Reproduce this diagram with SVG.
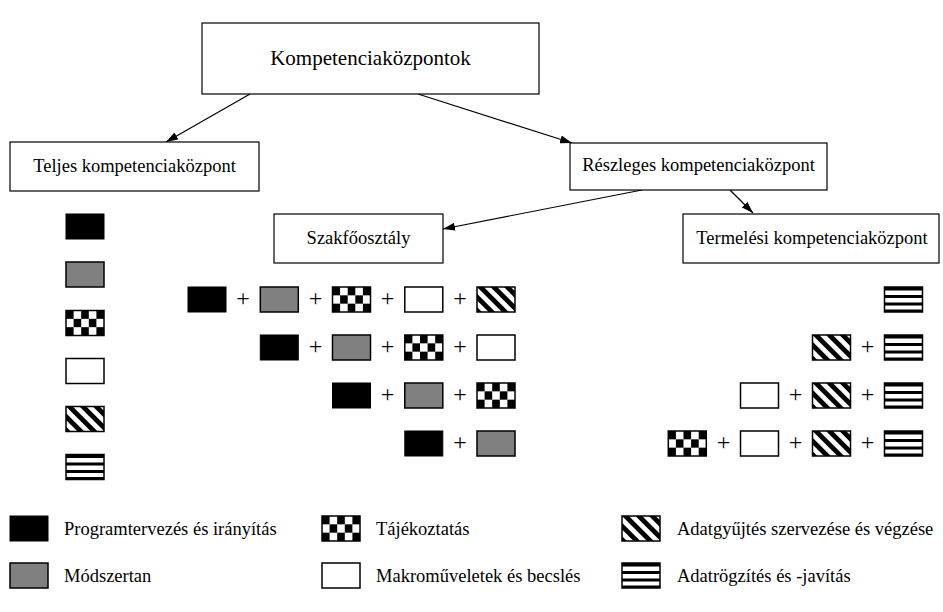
<svg xmlns="http://www.w3.org/2000/svg" xmlns:xlink="http://www.w3.org/1999/xlink" width="943" height="612" viewBox="0 0 943 612">
<style>
text{font-family:"Liberation Serif","Times New Roman",serif;fill:#000}
.node rect{fill:#fff;stroke:#000;stroke-width:1.2}
.lbl{font-size:18.5px;text-anchor:middle}
.title{font-size:21px;text-anchor:middle}
.leg{font-size:18.5px}
.plus{font-size:24px;text-anchor:middle}
.bd{fill:none;stroke:#000;stroke-width:1.5}
#connectors line{stroke:#000;stroke-width:1.2;marker-end:url(#ah)}
</style>
<defs>
<marker id="ah" markerUnits="userSpaceOnUse" markerWidth="12" markerHeight="8" viewBox="0 0 12 8" refX="12" refY="4" orient="auto"><path d="M0,0 L12,4 L0,8 z" fill="#000"/></marker>
<pattern id="diag" patternUnits="userSpaceOnUse" width="9.5" height="9.5" patternTransform="rotate(-45)"><rect width="9.5" height="9.5" fill="#fff"/><rect width="4.8" height="9.5" fill="#000"/></pattern>
<g id="s-blk"><rect width="38" height="25" fill="#000" stroke="#000" stroke-width="1"/></g>
<g id="s-gry"><rect width="38" height="25" fill="#808080" stroke="#000" stroke-width="1.5"/></g>
<g id="s-wht"><rect width="38" height="25" fill="#fff" stroke="#000" stroke-width="1.5"/></g>
<g id="s-chk"><rect width="38" height="25" fill="#fff"/>
<rect x="0" y="0" width="7.6" height="8.34" fill="#000"/><rect x="15.2" y="0" width="7.6" height="8.34" fill="#000"/><rect x="30.4" y="0" width="7.6" height="8.34" fill="#000"/>
<rect x="7.6" y="8.33" width="7.6" height="8.34" fill="#000"/><rect x="22.8" y="8.33" width="7.6" height="8.34" fill="#000"/>
<rect x="0" y="16.66" width="7.6" height="8.34" fill="#000"/><rect x="15.2" y="16.66" width="7.6" height="8.34" fill="#000"/><rect x="30.4" y="16.66" width="7.6" height="8.34" fill="#000"/>
<rect class="bd" width="38" height="25"/></g>
<g id="s-dia"><rect width="38" height="25" fill="url(#diag)"/><rect class="bd" width="38" height="25"/></g>
<g id="s-hor"><rect width="38" height="25" fill="#fff"/><rect y="0" width="38" height="3.5" fill="#000"/><rect y="8" width="38" height="3" fill="#000"/><rect y="15.5" width="38" height="3" fill="#000"/><rect y="22.5" width="38" height="2.5" fill="#000"/><rect class="bd" width="38" height="25"/></g>
</defs>
<rect width="943" height="612" fill="#fff"/>

<g id="connectors">
<line x1="250" y1="94" x2="166" y2="142"/>
<line x1="418" y1="94" x2="572" y2="143"/>
<line x1="642" y1="190" x2="443" y2="229"/>
<line x1="730" y1="190" x2="753" y2="213"/>
</g>

<g id="n-top" class="node"><rect x="202" y="23" width="337" height="71"/><text class="title" x="370.5" y="65">Kompetenciaközpontok</text></g>
<g id="n-teljes" class="node"><rect x="10" y="142" width="249" height="49"/><text class="lbl" x="134.5" y="172">Teljes kompetenciaközpont</text></g>
<g id="n-reszleges" class="node"><rect x="570" y="143" width="257" height="47"/><text class="lbl" x="698.5" y="171">Részleges kompetenciaközpont</text></g>
<g id="n-szak" class="node"><rect x="274" y="214" width="169" height="49"/><text class="lbl" x="358.5" y="244">Szakfőosztály</text></g>
<g id="n-termelesi" class="node"><rect x="683" y="214" width="256" height="49"/><text class="lbl" x="812" y="244">Termelési kompetenciaközpont</text></g>

<g id="teljes-col">
<use xlink:href="#s-blk" x="66" y="214"/>
<use xlink:href="#s-gry" x="66" y="262"/>
<use xlink:href="#s-chk" x="66" y="310.5"/>
<use xlink:href="#s-wht" x="66" y="358.5"/>
<use xlink:href="#s-dia" x="66" y="406.5"/>
<use xlink:href="#s-hor" x="66" y="454.5"/>
</g>

<g id="szak-rows">
<use xlink:href="#s-blk" x="188" y="287"/><text class="plus" x="243.1" y="305.5">+</text>
<use xlink:href="#s-gry" x="260.3" y="287"/><text class="plus" x="315.4" y="305.5">+</text>
<use xlink:href="#s-chk" x="332.5" y="287"/><text class="plus" x="387.6" y="305.5">+</text>
<use xlink:href="#s-wht" x="404.8" y="287"/><text class="plus" x="459.9" y="305.5">+</text>
<use xlink:href="#s-dia" x="477" y="287"/>

<use xlink:href="#s-blk" x="260.3" y="335"/><text class="plus" x="315.4" y="353.5">+</text>
<use xlink:href="#s-gry" x="332.5" y="335"/><text class="plus" x="387.6" y="353.5">+</text>
<use xlink:href="#s-chk" x="404.8" y="335"/><text class="plus" x="459.9" y="353.5">+</text>
<use xlink:href="#s-wht" x="477" y="335"/>

<use xlink:href="#s-blk" x="332.5" y="383"/><text class="plus" x="387.6" y="401.5">+</text>
<use xlink:href="#s-gry" x="404.8" y="383"/><text class="plus" x="459.9" y="401.5">+</text>
<use xlink:href="#s-chk" x="477" y="383"/>

<use xlink:href="#s-blk" x="404.8" y="431"/><text class="plus" x="459.9" y="449.5">+</text>
<use xlink:href="#s-gry" x="477" y="431"/>
</g>

<g id="termelesi-rows">
<use xlink:href="#s-hor" x="884.5" y="287"/>

<use xlink:href="#s-dia" x="812.5" y="335"/><text class="plus" x="867.6" y="353.5">+</text>
<use xlink:href="#s-hor" x="884.5" y="335"/>

<use xlink:href="#s-wht" x="740.5" y="383"/><text class="plus" x="795.5" y="401.5">+</text>
<use xlink:href="#s-dia" x="812.5" y="383"/><text class="plus" x="867.6" y="401.5">+</text>
<use xlink:href="#s-hor" x="884.5" y="383"/>

<use xlink:href="#s-chk" x="668.3" y="431"/><text class="plus" x="723.4" y="449.5">+</text>
<use xlink:href="#s-wht" x="740.5" y="431"/><text class="plus" x="795.5" y="449.5">+</text>
<use xlink:href="#s-dia" x="812.5" y="431"/><text class="plus" x="867.6" y="449.5">+</text>
<use xlink:href="#s-hor" x="884.5" y="431"/>
</g>

<g id="legend">
<use xlink:href="#s-blk" x="10" y="516"/><text class="leg" x="64" y="535">Programtervezés és irányítás</text>
<use xlink:href="#s-chk" x="322" y="516"/><text class="leg" x="376" y="535">Tájékoztatás</text>
<use xlink:href="#s-dia" x="622" y="516"/><text class="leg" x="677" y="535">Adatgyűjtés szervezése és végzése</text>
<use xlink:href="#s-gry" x="10" y="563"/><text class="leg" x="64" y="582">Módszertan</text>
<use xlink:href="#s-wht" x="322" y="563"/><text class="leg" x="376" y="582">Makroműveletek és becslés</text>
<use xlink:href="#s-hor" x="622" y="563"/><text class="leg" x="677" y="582">Adatrögzítés és -javítás</text>
</g>
</svg>
